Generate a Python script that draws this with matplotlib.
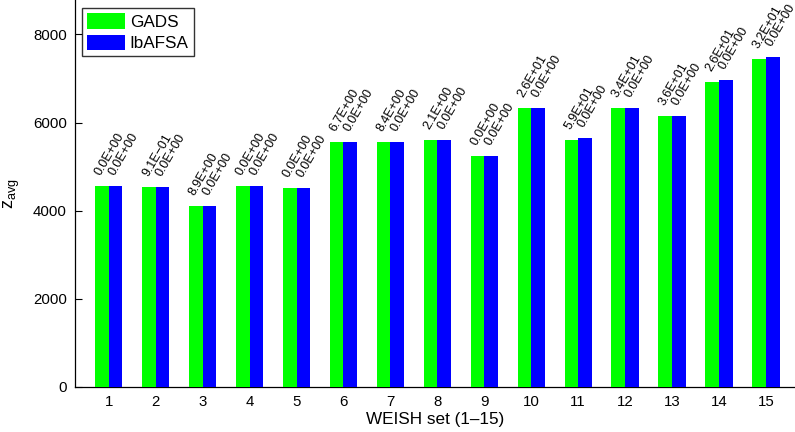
import matplotlib
matplotlib.use("Agg")
import matplotlib.pyplot as plt
import numpy as np

plt.rcParams["font.family"] = ["Liberation Sans", "DejaVu Sans"]
plt.rcParams["mathtext.default"] = "regular"

# average objective per WEISH instance and std labels for GADS
sets = np.arange(1, 16)
gads_avg = [4554, 4536, 4115, 4561, 4514, 5557, 5567, 5605, 5246,
            6319, 5594, 6319, 6145, 6924, 7436]
ibafsa_avg = [4554, 4536, 4115, 4561, 4514, 5557, 5567, 5605, 5246,
              6339, 5643, 6339, 6159, 6954, 7486]
gads_std = ["0.0E+00", "9.1E\u221201", "8.9E+00", "0.0E+00", "0.0E+00",
            "6.7E+00", "8.4E+00", "2.1E+00", "0.0E+00", "2.6E+01",
            "5.9E+01", "3.4E+01", "3.6E+01", "2.6E+01", "3.2E+01"]
ibafsa_std = ["0.0E+00"] * 15

fig = plt.figure(figsize=(7.95, 4.32), dpi=100)
ax = fig.add_axes([75 / 795, 45 / 432, 720 / 795, 387 / 432])

w = 0.29
ax.bar(sets - w / 2, gads_avg, w, color=(0, 1, 0), label="GADS", zorder=3)
ax.bar(sets + w / 2, ibafsa_avg, w, color=(0, 0, 1), label="IbAFSA", zorder=3)

for xs, ys, labels in [(sets - w / 2, gads_avg, gads_std),
                       (sets + w / 2, ibafsa_avg, ibafsa_std)]:
    for x, y, s in zip(xs, ys, labels):
        ax.annotate(s, (x, y), xytext=(-1, 10), textcoords="offset pixels",
                    rotation=60, rotation_mode="anchor", ha="left",
                    va="baseline", fontsize=9)

ax.set_xlim(0.28, 15.62)
ax.set_ylim(0, 8780)
ax.set_xticks(sets)
ax.set_yticks([0, 2000, 4000, 6000, 8000])
ax.tick_params(axis="both", direction="in", labelsize=10.8, length=5,
               width=0.8, pad=6)
ax.tick_params(axis="x", length=0)
ax.spines["top"].set_visible(False)
ax.spines["right"].set_visible(False)
for sp in ("left", "bottom"):
    ax.spines[sp].set_linewidth(0.9)

ax.set_xlabel("WEISH set (1\u201315)", fontsize=12.3, labelpad=2)
ax.set_ylabel("$z_{avg}$", fontsize=13, labelpad=8)

leg = ax.legend(loc="upper left", bbox_to_anchor=(0.0097, 0.979), fontsize=12.3,
                frameon=True, fancybox=False, edgecolor="black",
                handlelength=2.2, handleheight=1.0, handletextpad=0.3,
                borderpad=0.3, labelspacing=0.3, borderaxespad=0)
leg.get_frame().set_linewidth(1.0)

fig.savefig("out.png", dpi=100)
